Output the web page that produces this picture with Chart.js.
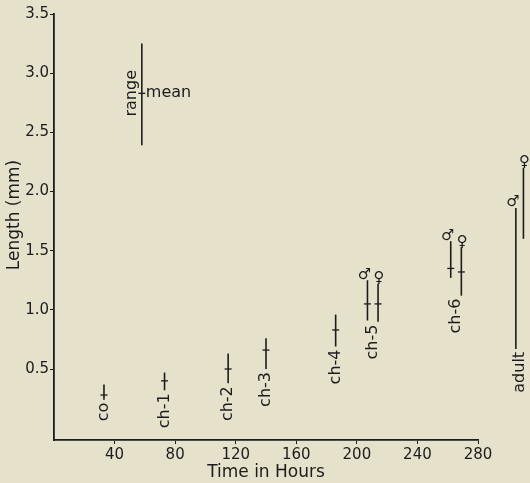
<!DOCTYPE html>
<html><head><meta charset="utf-8">
<script src="https://cdn.jsdelivr.net/npm/chart.js@4/dist/chart.umd.min.js"></script>
<style>html,body{margin:0;padding:0;background:#e6e1cb;overflow:hidden}#wrap{width:530px;height:483px}</style>
</head><body><div id="wrap"><canvas id="c" width="530" height="483"></canvas></div>
<script>
// ---- data ----
const stages   = ['co','ch-1','ch-2','ch-3','ch-4','ch-5','ch-5','ch-6','ch-6','adult','adult'];
const sexes    = ['','','','','','♂','♀','♂','♀','♂','♀'];
const hours    = [33, 73, 115, 140, 186, 207, 214, 262, 269, 305, 310];
const rangeMin = [0.24, 0.32, 0.38, 0.50, 0.69, 0.91, 0.90, 1.27, 1.12, 0.67, 1.60];
const rangeMax = [0.37, 0.47, 0.63, 0.76, 0.96, 1.25, 1.22, 1.58, 1.53, 1.86, 2.20];
const means    = [0.28, 0.40, 0.50, 0.66, 0.83, 1.05, 1.05, 1.35, 1.32, 1.42, 1.80];
// key (range / mean example)
const keyHour = 58, keyMin = 2.39, keyMax = 3.25, keyMean = 2.83;
const xTickValues = [40, 80, 120, 160, 200, 240, 280];
const yTickValues = [0.5, 1.0, 1.5, 2.0, 2.5, 3.0, 3.5];
const xTitle = 'Time in Hours';
const yTitle = 'Length (mm)';

const INK = '#1c1c1c';
const BG = '#e6e1cb';
const FONT = "'DejaVu Sans', sans-serif";

const datasets = [];
hours.forEach((h, i) => {
  datasets.push({
    data: [{x: h, y: rangeMin[i]}, {x: h, y: rangeMax[i]}],
    showLine: true, borderColor: INK, borderWidth: 1.6, pointRadius: 0, clip: false
  });
});
datasets.push({
  data: [{x: keyHour, y: keyMin}, {x: keyHour, y: keyMax}],
  showLine: true, borderColor: INK, borderWidth: 1.6, pointRadius: 0, clip: false
});
datasets.push({
  data: hours.map((h, i) => ({x: h, y: means[i]})).concat([{x: keyHour, y: keyMean}]),
  showLine: false, pointStyle: 'line', pointRadius: 3.5, pointBorderWidth: 1.3,
  pointBorderColor: INK, pointBackgroundColor: INK, clip: false
});

const bgPlugin = {
  id: 'bg',
  beforeDraw(chart) {
    const c = chart.ctx; c.save(); c.fillStyle = BG; c.fillRect(0, 0, chart.width, chart.height); c.restore();
  }
};

const annot = {
  id: 'annot',
  afterDatasetsDraw(chart) {
    const c = chart.ctx, xs = chart.scales.x, ys = chart.scales.y;
    c.save();
    c.fillStyle = INK;
    // y axis title
    c.font = '17px ' + FONT;
    c.save(); c.translate(15, 215); c.rotate(-Math.PI / 2);
    c.textAlign = 'center'; c.textBaseline = 'middle';
    c.fillText(yTitle, 0, 0); c.restore();
    // stage labels (rotated, below ranges)
    const seen = [];
    stages.forEach(s => { if (!seen.includes(s)) seen.push(s); });
    c.font = '16px ' + FONT;
    seen.forEach(s => {
      const idx = stages.map((v, i) => v === s ? i : -1).filter(i => i >= 0);
      const hx = idx.reduce((a, i) => a + hours[i], 0) / idx.length;
      const lo = Math.min(...idx.map(i => rangeMin[i]));
      const px = xs.getPixelForValue(hx), py = ys.getPixelForValue(lo) + 3;
      c.save(); c.translate(px, py); c.rotate(-Math.PI / 2);
      c.textAlign = 'right'; c.textBaseline = 'middle';
      c.fillText(s, 0, 0); c.restore();
    });
    // sex symbols
    c.font = '15px ' + FONT;
    c.textAlign = 'center'; c.textBaseline = 'bottom';
    sexes.forEach((g, i) => {
      if (!g) return;
      const px = xs.getPixelForValue(hours[i]) + (g === '♂' ? -3 : 1);
      const py = ys.getPixelForValue(rangeMax[i]) + 2;
      c.fillText(g, px, py);
    });
    // key texts
    const kx = xs.getPixelForValue(keyHour), ky = ys.getPixelForValue(keyMean);
    c.font = '16px ' + FONT;
    c.textAlign = 'left'; c.textBaseline = 'middle';
    c.fillText('mean', kx + 4, ky);
    c.save(); c.translate(kx - 10, ky); c.rotate(-Math.PI / 2);
    c.textAlign = 'center'; c.textBaseline = 'middle';
    c.fillText('range', 0, 0); c.restore();
    c.restore();
  }
};

new Chart(document.getElementById('c'), {
  type: 'scatter',
  data: { datasets },
  plugins: [bgPlugin, annot],
  options: {
    responsive: false, animation: false,
    layout: { padding: { left: 0, right: 52, top: 14, bottom: 0 } },
    plugins: { legend: { display: false }, tooltip: { enabled: false } },
    scales: {
      x: {
        type: 'linear', min: 0, max: 280,
        afterBuildTicks: s => { s.ticks = xTickValues.map(v => ({ value: v })); },
        afterFit: s => { s.height = 43; },
        ticks: { color: INK, font: { family: FONT, size: 15 }, padding: 2, autoSkip: false, maxRotation: 0 },
        grid: { drawOnChartArea: false, tickLength: 4, color: INK, lineWidth: 1 },
        border: { color: INK, width: 1.8 },
        title: { display: true, text: xTitle, color: INK, font: { family: FONT, size: 17 }, padding: { top: 0, bottom: 0 } }
      },
      y: {
        type: 'linear', min: -0.1, max: 3.5,
        afterBuildTicks: s => { s.ticks = yTickValues.map(v => ({ value: v })); },
        afterFit: s => { s.width = 54; },
        ticks: { color: INK, font: { family: FONT, size: 15 }, padding: 1, callback: v => Number(v).toFixed(1) },
        grid: { drawOnChartArea: false, tickLength: 4, color: INK, lineWidth: 1 },
        border: { color: INK, width: 1.8 },
        title: { display: false }
      }
    }
  }
});
</script></body></html>
